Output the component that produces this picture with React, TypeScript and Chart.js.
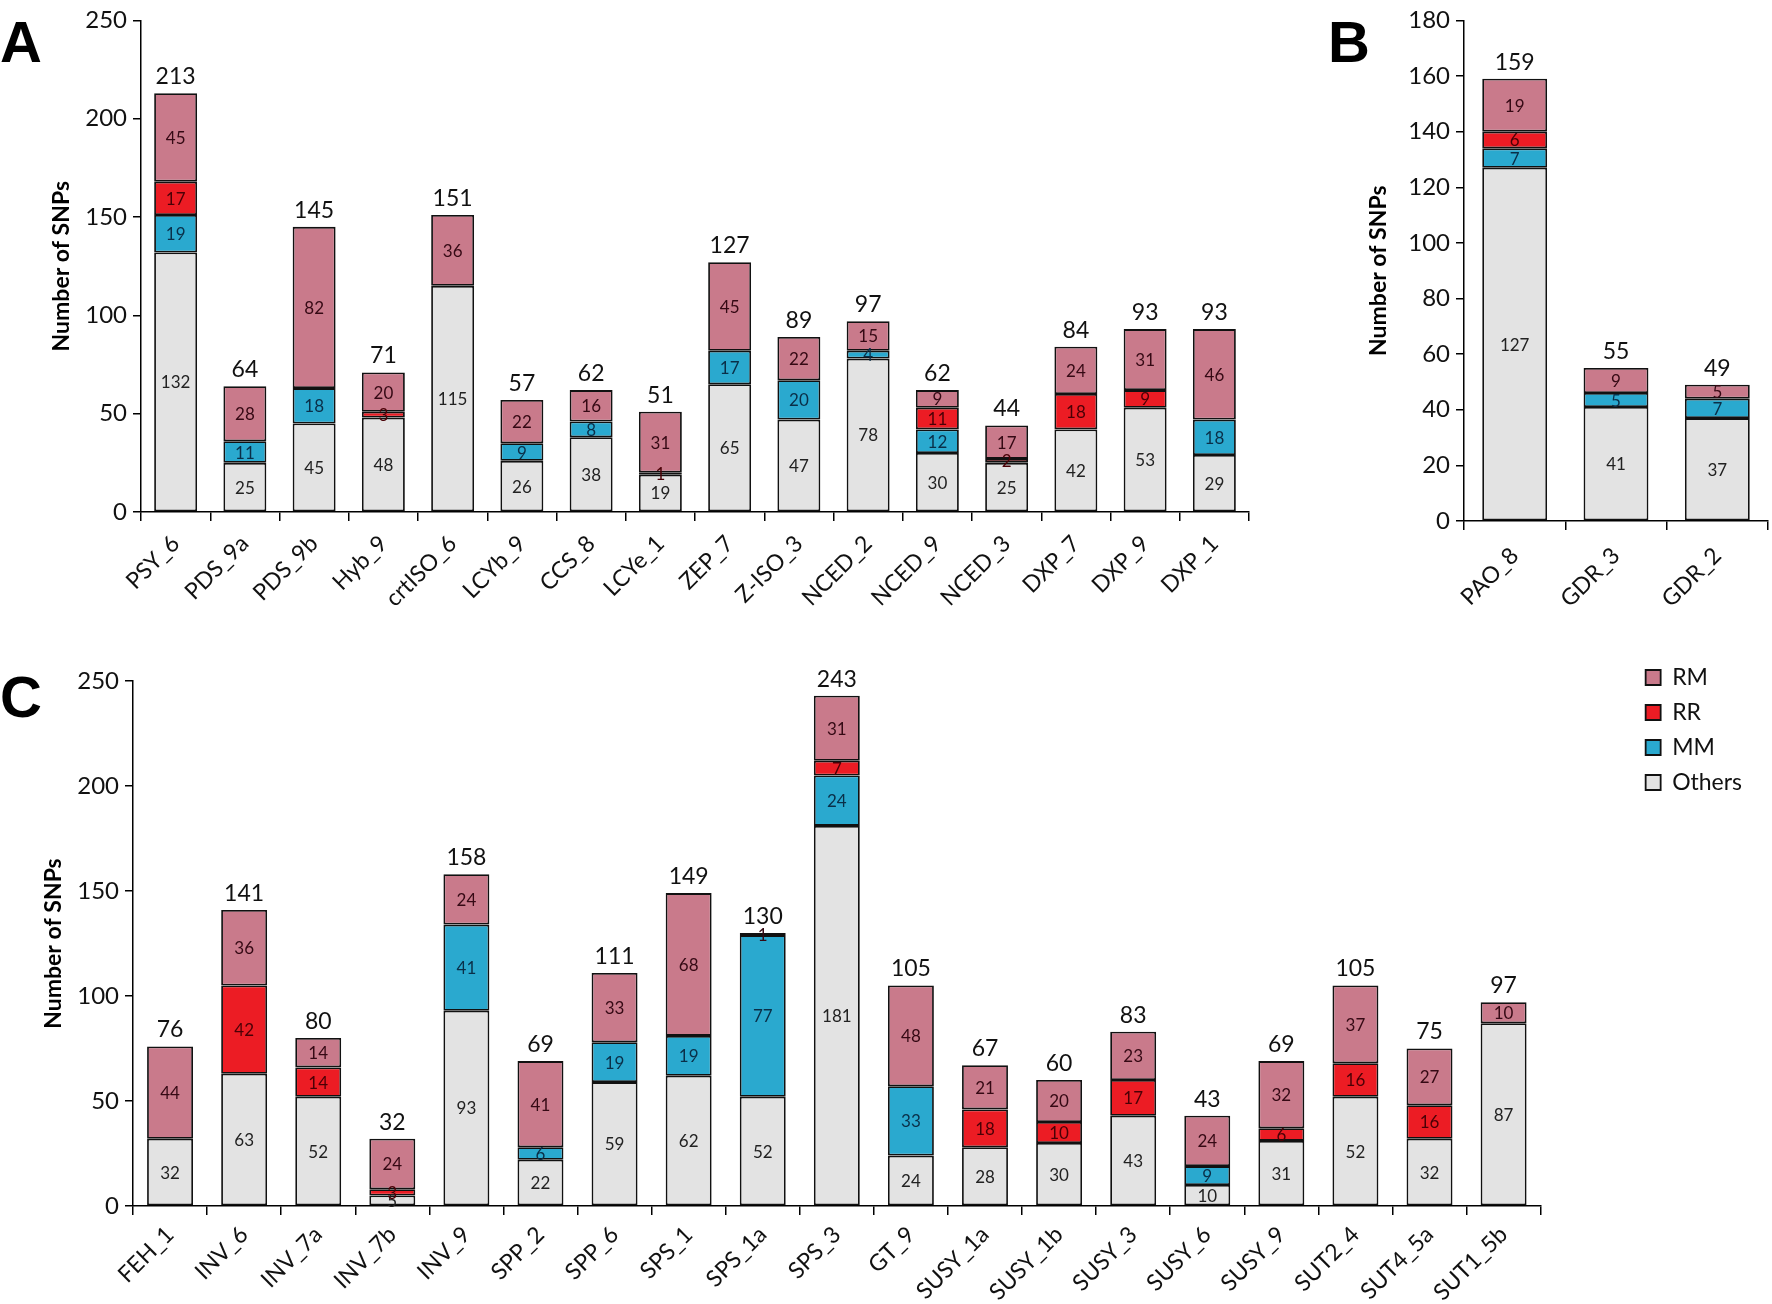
import React, { useEffect, useRef } from 'react';
import { Chart, registerables } from 'chart.js';

Chart.register(...registerables);

const FONT = 'Lato, "Open Sans", "DejaVu Sans", sans-serif';

// ---------- Panel A ----------
const categoriesA = ['PSY_6', 'PDS_9a', 'PDS_9b', 'Hyb_9', 'crtISO_6', 'LCYb_9', 'CCS_8', 'LCYe_1', 'ZEP_7', 'Z-ISO_3', 'NCED_2', 'NCED_9', 'NCED_3', 'DXP_7', 'DXP_9', 'DXP_1'];
const othersA = [132, 25, 45, 48, 115, 26, 38, 19, 65, 47, 78, 30, 25, 42, 53, 29];
const mmA = [19, 11, 18, 0, 0, 9, 8, 0, 17, 20, 4, 12, 0, 0, 0, 18];
const rrA = [17, 0, 0, 3, 0, 0, 0, 1, 0, 0, 0, 11, 2, 18, 9, 0];
const rmA = [45, 28, 82, 20, 36, 22, 16, 31, 45, 22, 15, 9, 17, 24, 31, 46];

// ---------- Panel B ----------
const categoriesB = ['PAO_8', 'GDR_3', 'GDR_2'];
const othersB = [127, 41, 37];
const mmB = [7, 5, 7];
const rrB = [6, 0, 0];
const rmB = [19, 9, 5];

// ---------- Panel C ----------
const categoriesC = ['FEH_1', 'INV_6', 'INV_7a', 'INV_7b', 'INV_9', 'SPP_2', 'SPP_6', 'SPS_1', 'SPS_1a', 'SPS_3', 'GT_9', 'SUSY_1a', 'SUSY_1b', 'SUSY_3', 'SUSY_6', 'SUSY_9', 'SUT2_4', 'SUT4_5a', 'SUT1_5b'];
const othersC = [32, 63, 52, 5, 93, 22, 59, 62, 52, 181, 24, 28, 30, 43, 10, 31, 52, 32, 87];
const mmC = [0, 0, 0, 0, 41, 6, 19, 19, 77, 24, 33, 0, 0, 0, 9, 0, 0, 0, 0];
const rrC = [0, 42, 14, 3, 0, 0, 0, 0, 0, 7, 0, 18, 10, 17, 0, 6, 16, 16, 0];
const rmC = [44, 36, 14, 24, 24, 41, 33, 68, 1, 31, 48, 21, 20, 23, 24, 32, 37, 27, 10];

const ticksA = { max: 250, step: 50 };
const ticksB = { max: 180, step: 20 };
const ticksC = { max: 250, step: 50 };

const seriesNames = ['Others', 'MM', 'RR', 'RM'];
const fillColors = ['#E3E3E3', '#2AA9CF', '#EC1C24', '#C97A8B'];
const labelColors = ['#222222', '#0a2f48', '#4a0006', '#350914'];

const valueLabels = {
  id: 'valueLabels',
  afterDatasetsDraw(chart: any) {
    const ctx = chart.ctx;
    ctx.save();
    ctx.textAlign = 'center';
    ctx.textBaseline = 'middle';
    ctx.font = `17px ${FONT}`;
    chart.data.datasets.forEach((ds: any, di: number) => {
      const meta = chart.getDatasetMeta(di);
      meta.data.forEach((el: any, i: number) => {
        const v = ds.data[i];
        if (v == null || v <= 0) return;
        const p = el.getProps(['x', 'y', 'base'], true);
        ctx.fillStyle = labelColors[di];
        ctx.fillText(String(v), p.x, (p.y + p.base) / 2 + 1);
      });
    });
    ctx.font = `23px ${FONT}`;
    ctx.fillStyle = '#111';
    ctx.textBaseline = 'bottom';
    const n = chart.data.labels.length;
    for (let i = 0; i < n; i++) {
      let t = 0;
      chart.data.datasets.forEach((ds: any) => { t += ds.data[i] ?? 0; });
      const x = chart.scales.x.getPixelForValue(i);
      const y = chart.scales.y.getPixelForValue(t);
      ctx.fillText(String(t), x, y - 5);
    }
    ctx.restore();
  },
};

function makeDatasets(series: number[][], barPct: number) {
  return series.map((arr, k) => ({
    label: seriesNames[k],
    data: arr.map((v) => (v === 0 ? null : v)),
    backgroundColor: fillColors[k],
    borderColor: '#111',
    borderWidth: 1.8,
    borderSkipped: false,
    barPercentage: barPct,
    categoryPercentage: 1,
  }));
}

interface Cfg {
  labels: string[];
  series: number[][];
  barPct: number;
  yMax: number;
  step: number;
  yWidth: number;
  xHeight: number;
  titlePad: number;
  xPad: number;
  padding: any;
  legend?: boolean;
  legendGap?: number;
  topSpacer?: number;
}

function buildConfig(c: Cfg): any {
  const scales: any = {
    x: {
      stacked: true,
      grid: { drawOnChartArea: false, drawTicks: true, tickLength: 9, color: '#000', lineWidth: 1.5, offset: true },
      border: { color: '#000', width: 1.5 },
      ticks: { maxRotation: 45, minRotation: 45, autoSkip: false, font: { family: FONT, size: 23 }, color: '#111', padding: c.xPad },
      afterFit: (s: any) => { s.height = c.xHeight; },
    },
    y: {
      stacked: true,
      min: 0,
      max: c.yMax,
      ticks: { stepSize: c.step, font: { family: FONT, size: 24 }, color: '#111', padding: 6 },
      grid: { drawOnChartArea: false, drawTicks: true, tickLength: 8, color: '#000', lineWidth: 1.5 },
      border: { color: '#000', width: 1.5 },
      title: { display: true, text: 'Number of SNPs', font: { family: FONT, size: 23, weight: 'bold' }, color: '#000', padding: { top: c.titlePad, bottom: 0 } },
      afterFit: (s: any) => { s.width = c.yWidth; },
    },
  };
  if (c.legend) {
    scales.gap = {
      type: 'linear',
      position: 'right',
      display: true,
      grid: { display: false },
      border: { display: false },
      ticks: { display: false },
      afterFit: (s: any) => { s.width = c.legendGap; },
    };
  }
  return {
    type: 'bar',
    data: { labels: c.labels, datasets: makeDatasets(c.series, c.barPct) },
    options: {
      responsive: false,
      animation: false,
      devicePixelRatio: 1,
      layout: { padding: c.padding },
      scales,
      plugins: {
        legend: c.legend
          ? {
              display: true,
              position: 'right',
              align: 'start',
              reverse: true,
              labels: { font: { family: FONT, size: 23 }, color: '#111', boxWidth: 15, boxHeight: 15, padding: 12 },
            }
          : { display: false },
        title: c.topSpacer
          ? { display: true, text: ' ', font: { size: 10 }, padding: { top: 0, bottom: c.topSpacer - 12 } }
          : { display: false },
        tooltip: { enabled: false },
      },
    },
    plugins: [valueLabels],
  };
}

function ChartCanvas({ cfg, left, top, width, height }: { cfg: Cfg; left: number; top: number; width: number; height: number }) {
  const ref = useRef<HTMLCanvasElement>(null);
  useEffect(() => {
    if (!ref.current) return;
    const chart = new Chart(ref.current, buildConfig(cfg));
    return () => chart.destroy();
  }, []);
  return <canvas ref={ref} width={width} height={height} style={{ position: 'absolute', left, top, width, height }} />;
}

const letterStyle: React.CSSProperties = {
  position: 'absolute',
  fontFamily: '"Liberation Sans", Arial, sans-serif',
  fontWeight: 'bold',
  fontSize: 58,
  lineHeight: 1,
  color: '#000',
  zIndex: 2,
};

export default function App() {
  const cfgA: Cfg = {
    labels: categoriesA,
    series: [othersA, mmA, rrA, rmA],
    barPct: 0.62,
    yMax: ticksA.max,
    step: ticksA.step,
    yWidth: 141,
    xHeight: 128,
    titlePad: 48,
    xPad: 9,
    padding: { left: 0, top: 18, right: 51, bottom: 0 },
  };
  const cfgB: Cfg = {
    labels: categoriesB,
    series: [othersB, mmB, rrB, rmB],
    barPct: 0.64,
    yMax: ticksB.max,
    step: ticksB.step,
    yWidth: 144,
    xHeight: 119,
    titlePad: 45,
    xPad: 12,
    padding: { left: 0, top: 15, right: 4, bottom: 0 },
  };
  const cfgC: Cfg = {
    labels: categoriesC,
    series: [othersC, mmC, rrC, rmC],
    barPct: 0.62,
    yMax: ticksC.max,
    step: ticksC.step,
    yWidth: 133,
    xHeight: 98,
    titlePad: 40,
    xPad: 6,
    padding: { left: 0, top: 14, right: 20, bottom: 0 },
    legend: true,
    legendGap: 93,
    topSpacer: 27,
  };
  return (
    <div style={{ position: 'absolute', left: 0, top: 0, width: 1772, height: 1304, background: '#fff', overflow: 'hidden' }}>
      <ChartCanvas cfg={cfgA} left={0} top={0} width={1300} height={640} />
      <ChartCanvas cfg={cfgB} left={1320} top={0} width={452} height={640} />
      <ChartCanvas cfg={cfgC} left={0} top={640} width={1772} height={664} />
      <div style={{ ...letterStyle, left: 0, top: 13 }}>A</div>
      <div style={{ ...letterStyle, left: 1328, top: 13 }}>B</div>
      <div style={{ ...letterStyle, left: 0, top: 668 }}>C</div>
    </div>
  );
}
